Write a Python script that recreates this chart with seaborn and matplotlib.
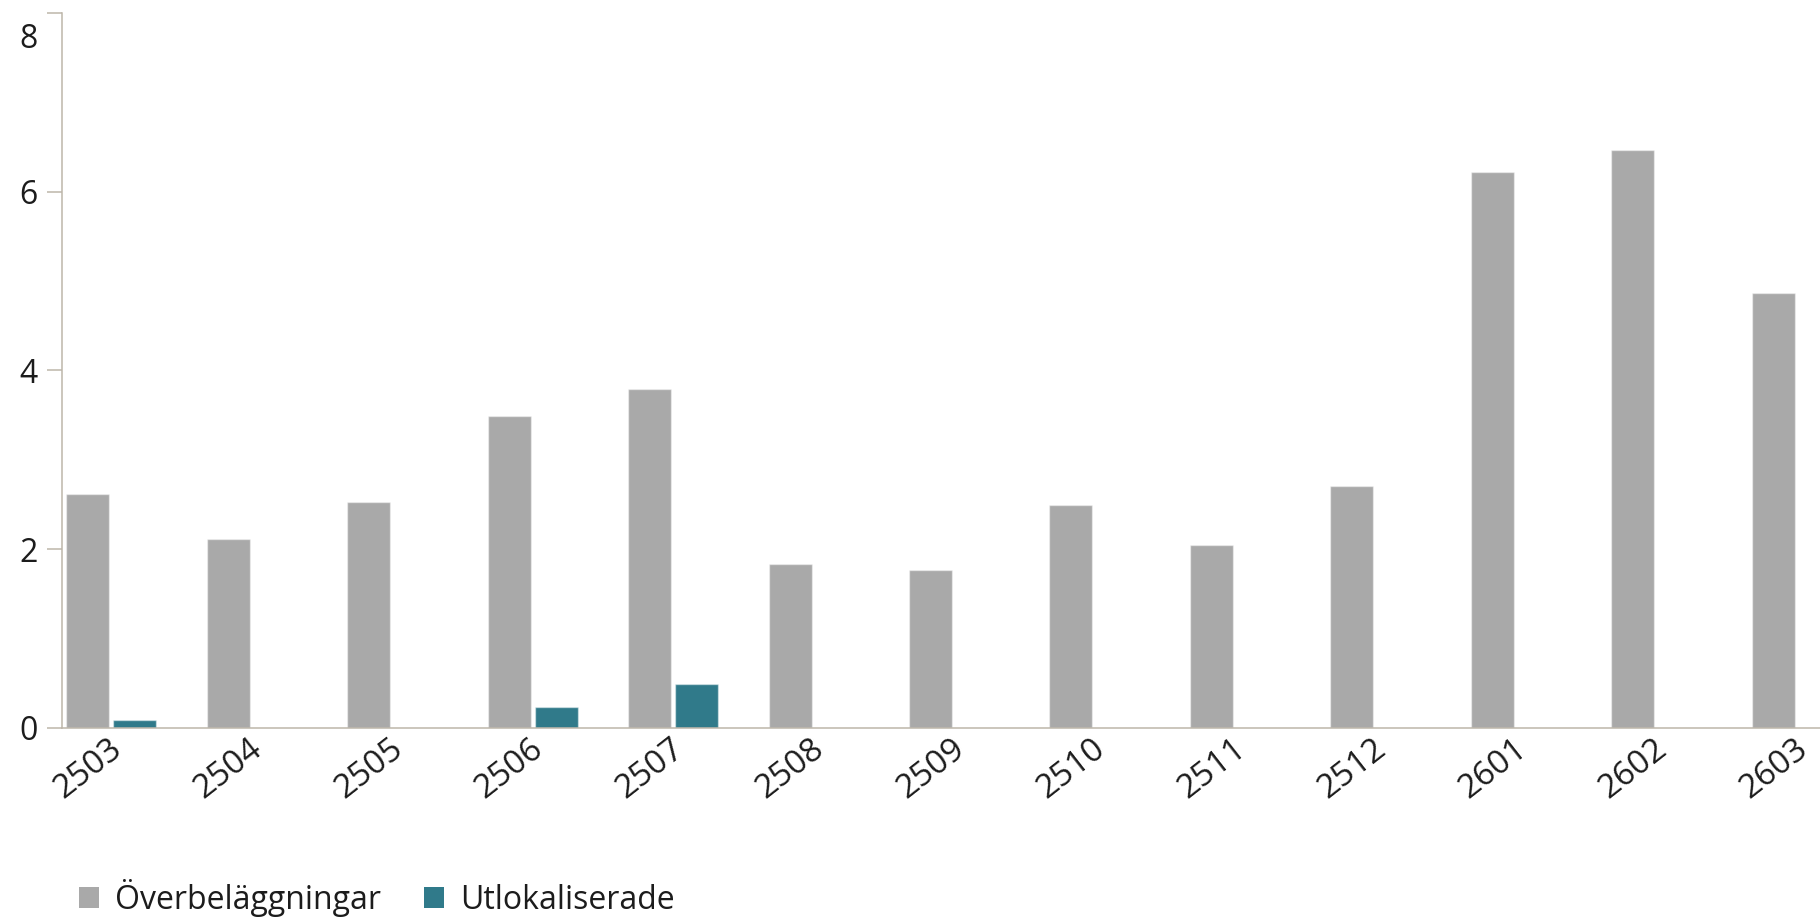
import matplotlib
matplotlib.use("Agg")
import matplotlib.pyplot as plt
import matplotlib.transforms as mtransforms
from matplotlib.patches import Patch
import seaborn as sns
import pandas as pd

# ---- data ----
periods = ["2503", "2504", "2505", "2506", "2507", "2508", "2509",
           "2510", "2511", "2512", "2601", "2602", "2603"]
overbelaggningar = [2.62, 2.11, 2.53, 3.49, 3.79, 1.83, 1.76,
                    2.49, 2.05, 2.71, 6.22, 6.47, 4.87]
utlokaliserade = [0.09, 0.0, 0.0, 0.23, 0.49, 0.0, 0.0,
                  0.0, 0.0, 0.0, 0.0, 0.0, 0.0]
series_names = ["Överbeläggningar", "Utlokaliserade"]
series_colors = ["#a9a9a9", "#307a8a"]
y_ticks = [0, 2, 4, 6, 8]

df = pd.DataFrame({
    "period": periods * 2,
    "value": overbelaggningar + utlokaliserade,
    "series": [series_names[0]] * len(periods) + [series_names[1]] * len(periods),
})

sns.set_theme(style="white")
plt.rcParams["font.family"] = ["Open Sans", "DejaVu Sans"]

W, H = 1820, 917
fig = plt.figure(figsize=(W / 100, H / 100), dpi=100)
ax = fig.add_axes([62 / W, 1 - 727.7 / H, 1 - 62 / W, (727.7 - 13) / H])

sns.barplot(data=df, x="period", y="value", hue="series",
            palette=series_colors, hue_order=series_names, order=periods,
            width=0.669, gap=0.085, ax=ax, legend=False,
            edgecolor=(1, 1, 1, 0.45), linewidth=1.0, saturation=1)

ax.set_xlim(-0.349, 12.164)
ax.set_ylim(0, 8)
ax.set_yticks(y_ticks)
ax.set_yticklabels([str(t) for t in y_ticks])
ax.set_xlabel("")
ax.set_ylabel("")

spine_col = "#bdb6aa"
for s in ["top", "right"]:
    ax.spines[s].set_visible(False)
for s in ["left", "bottom"]:
    ax.spines[s].set_color(spine_col)
    ax.spines[s].set_linewidth(1.1)

text_col = "#1c1c1c"
ax.tick_params(axis="y", length=10.8, width=1.1, color=spine_col, pad=6.5,
               labelsize=23, labelcolor=text_col, left=True)
ax.tick_params(axis="x", length=0, pad=11, labelsize=24, labelcolor=text_col)
xoff = mtransforms.ScaledTranslation(0.07, -0.02, fig.dpi_scale_trans)
for lbl in ax.get_xticklabels():
    lbl.set_rotation(38)
    lbl.set_ha("right")
    lbl.set_va("center")
    lbl.set_rotation_mode("anchor")
    lbl.set_transform(lbl.get_transform() + xoff)

# top label sits a bit below its tick (as in the reference)
ylabels = ax.get_yticklabels()
off = mtransforms.ScaledTranslation(0, -0.22, fig.dpi_scale_trans)
ylabels[-1].set_transform(ylabels[-1].get_transform() + off)

handles = [Patch(facecolor=c, edgecolor="none", label=n)
           for c, n in zip(series_colors, series_names)]
fig.legend(handles=handles, loc="center left",
           bbox_to_anchor=(79 / W, 1 - 898 / H), ncol=2, frameon=False,
           fontsize=23, labelcolor=text_col, handlelength=0.63,
           handleheight=0.63, handletextpad=0.5, columnspacing=1.35,
           borderpad=0, borderaxespad=0)

fig.savefig("out.png", dpi=100)
